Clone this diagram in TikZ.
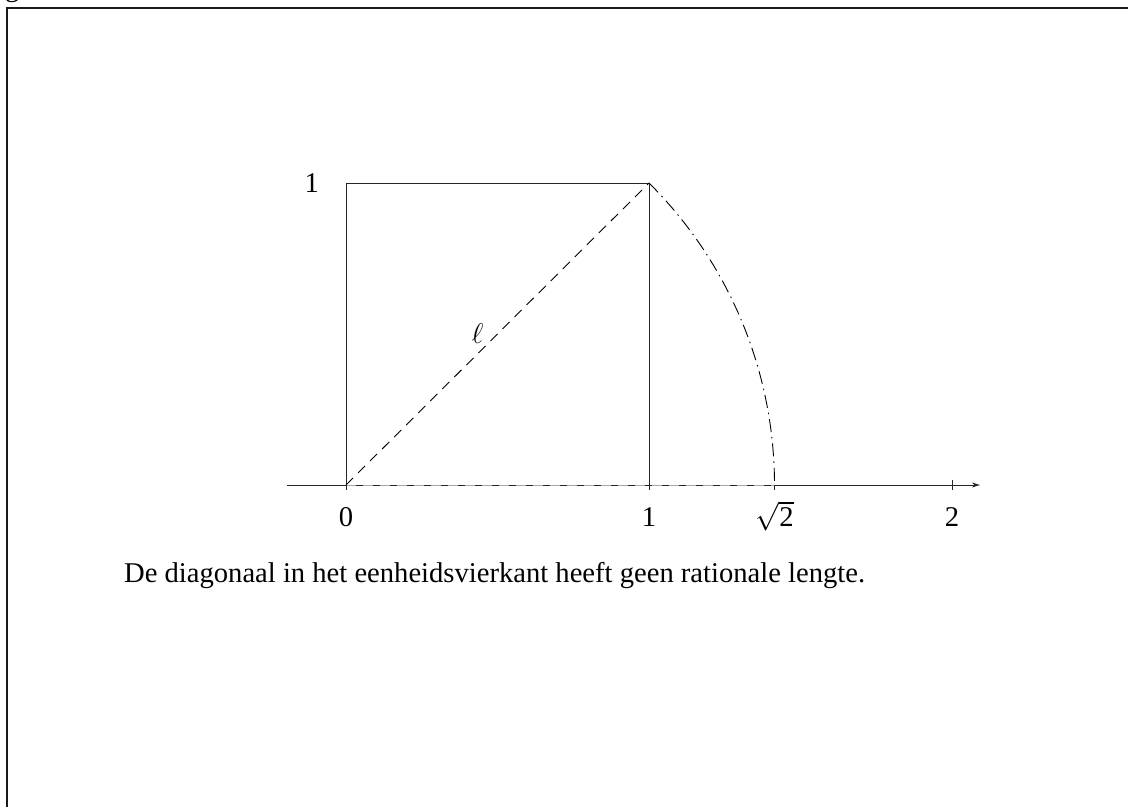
\RequirePackage{fix-cm}
\documentclass[tikz,border=0pt]{standalone}
\usepackage{fontspec}
\setmainfont{Liberation Serif}
\usetikzlibrary{arrows.meta}
\begin{document}
\begin{tikzpicture}[x=1pt,y=1pt,
  bigfont/.style={font=\fontsize{28.6}{34}\selectfont},
  thinline/.style={line width=0.9pt, black!85},
  lab/.style={bigfont, anchor=base, inner sep=0pt, yshift=-42pt},
  diagdash/.style={line width=0.9pt, dash pattern=on 10pt off 7pt},
  arcdash/.style={line width=0.9pt, dash pattern=on 13pt off 5pt on 1.5pt off 5pt},
  axisdash/.style={line width=0.9pt, black!35, dash pattern=on 10pt off 7pt}]
\useasboundingbox (0,0) rectangle (1128,807);
% frame (left and top edges)
\coordinate (fb) at (7,0);
\coordinate (fc) at (7,799);
\coordinate (fr) at (1128,799);
\draw[line width=2pt, black!90] (fb) -- (fc) -- (fr);
\node[bigfont, anchor=base west, inner sep=0pt] (g) at (5,810) {g};
\begin{scope}[shift={(346,322)}, x=303pt, y=302pt]
  \coordinate (O) at (0,0);
  \coordinate (A) at (1,0);
  \coordinate (B) at (1,1);
  \coordinate (C) at (0,1);
  \coordinate (S) at (1.41421,0);
  \coordinate (T) at (2,0);
  \coordinate (xs) at (-0.195,0);
  \coordinate (xe) at (2.092,0);
  % axis
  \draw[thinline, -{Stealth[length=8pt,width=5pt]}] (xs) -- (xe);
  \draw[axisdash] (O) -- (S);
  % ticks
  \draw[thinline] (O) -- ++(0,-5pt);
  \draw[thinline] (A) -- ++(0,-5pt);
  \draw[thinline] (S) -- ++(0,-5pt);
  \draw[thinline] (T) ++(0,-5pt) -- ++(0,10pt);
  % square
  \draw[thinline] (O) -- (C) -- (B) -- (A);
  % diagonal
  \draw[diagdash] (O) -- node[bigfont, inner sep=0pt, xshift=-20pt] (ell) {$\ell$} (B);
  % arc
  \draw[arcdash] (B) arc[start angle=45, end angle=0, radius=1.41421];
  % labels
  \node[lab] (l0) at (O) {0};
  \node[lab] (l1) at (A) {1};
  \node[lab] (ls) at (S) {$\sqrt{\mbox{2}}$};
  \node[lab] (l2) at (T) {2};
  \node[bigfont, anchor=base east, inner sep=0pt, xshift=-27pt, yshift=-10pt] (ly) at (C) {1};
\end{scope}
\node[bigfont, anchor=base west, inner sep=0pt] (cap) at (124,225) {De diagonaal in het eenheidsvierkant heeft geen rationale lengte.};
\end{tikzpicture}
\end{document}
